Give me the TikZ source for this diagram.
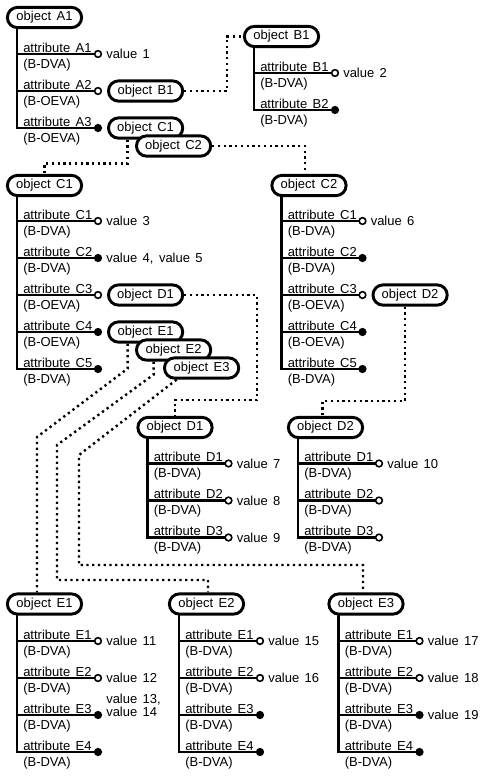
\documentclass[tikz,border=0pt]{standalone}
\usepackage{fontspec}
\setmainfont{Liberation Sans}[WordSpace=1.5]
\usetikzlibrary{calc}
\tikzset{
  obj/.style={draw, line width=2.2pt, fill=white, rounded corners=7.6pt,
    minimum width=55.7pt, minimum height=15.2pt, inner sep=0pt,
    font=\fontsize{9.75}{11.7}\selectfont},
  lbl/.style={inner sep=0pt, font=\fontsize{9.75}{11.7}\selectfont},
  val/.style={lbl, anchor=base west},
  attrline/.style={line width=1.7pt, line cap=rect},
  opendot/.style={circle, draw, fill=white, line width=1.2pt, minimum size=5pt, inner sep=0pt},
  fulldot/.style={circle, fill=black, minimum size=6.2pt, inner sep=0pt},
  dots/.style={line width=1.8pt, dash pattern=on 1.7pt off 2.6pt},
}
% #1 name, #2 vline x, #3 y, #4 attribute label, #5 type, #6 dot style
\newcommand\arow[6]{%
  \coordinate (#1s) at (#2,#3);
  \node[#6] (#1) at (#2+81,#3) {};
  \draw[attrline] (#1s) -- (#1);
  \node[lbl,anchor=base west] (#1n) at (#2+6,#3-2) {attribute #4};
  \node[lbl,anchor=base west] (#1t) at (#2+6,#3+14) {(#5)};
}
\begin{document}
\begin{tikzpicture}[x=0.75pt,y=-0.75pt]
\path[use as bounding box] (0,0) rectangle (500,776);

% ---------- block A1
\node[obj] (A1) at (44.5,17.5) {object A1};
\arow{A1a1}{17}{54}{A1}{B-DVA}{opendot}
\arow{A1a2}{17}{91}{A2}{B-OEVA}{opendot}
\arow{A1a3}{17}{128}{A3}{B-OEVA}{fulldot}
\draw[attrline] (A1a3s |- A1.south) -- (A1a3s);
\node[val] (v1) at ($(A1a1.center)+(8,4.6)$) {value 1};
\node[obj,anchor=west] (B1r) at ($(A1a2.center)+(9,0)$) {object B1};
\node[obj,anchor=west] (C1r) at ($(A1a3.center)+(9,0)$) {object C1};
\node[obj] (C2r) at ($(C1r.center)+(28,18)$) {object C2};

% ---------- block B1
\node[obj] (B1) at (281.5,36.5) {object B1};
\arow{B1a1}{254}{73}{B1}{B-DVA}{opendot}
\arow{B1a2}{254}{110}{B2}{B-DVA}{fulldot}
\draw[attrline] (B1a2s |- B1.south) -- (B1a2s);
\node[val] (v2) at ($(B1a1.center)+(8,4.6)$) {value 2};

% ---------- block C1
\node[obj] (C1) at (44.5,185.5) {object C1};
\arow{C1a1}{17}{221}{C1}{B-DVA}{opendot}
\arow{C1a2}{17}{258}{C2}{B-DVA}{fulldot}
\arow{C1a3}{17}{295}{C3}{B-OEVA}{opendot}
\arow{C1a4}{17}{332}{C4}{B-OEVA}{fulldot}
\arow{C1a5}{17}{369}{C5}{B-DVA}{fulldot}
\draw[attrline] (C1a5s |- C1.south) -- (C1a5s);
\node[val] (v3) at ($(C1a1.center)+(8,4.6)$) {value 3};
\node[val] (v45) at ($(C1a2.center)+(8,4.6)$) {value 4, value 5};
\node[obj,anchor=west] (D1r) at ($(C1a3.center)+(9,0)$) {object D1};
\node[obj,anchor=west] (E1r) at ($(C1a4.center)+(9,0)$) {object E1};
\node[obj] (E2r) at ($(E1r.center)+(28,18)$) {object E2};
\node[obj] (E3r) at ($(E2r.center)+(28,18)$) {object E3};

% ---------- block C2
\node[obj] (C2) at (309,185.5) {object C2};
\arow{C2a1}{281.5}{221}{C1}{B-DVA}{opendot}
\arow{C2a2}{281.5}{258}{C2}{B-DVA}{fulldot}
\arow{C2a3}{281.5}{295}{C3}{B-OEVA}{opendot}
\arow{C2a4}{281.5}{332}{C4}{B-OEVA}{fulldot}
\arow{C2a5}{281.5}{369}{C5}{B-DVA}{fulldot}
\draw[attrline] (C2a5s |- C2.south) -- (C2a5s);
\node[val] (v6) at ($(C2a1.center)+(8,4.6)$) {value 6};
\node[obj,anchor=west] (D2r) at ($(C2a3.center)+(9,0)$) {object D2};

% ---------- block D1
\node[obj] (D1) at (175,427.5) {object D1};
\arow{D1a1}{147.5}{463.5}{D1}{B-DVA}{opendot}
\arow{D1a2}{147.5}{500.5}{D2}{B-DVA}{opendot}
\arow{D1a3}{147.5}{537.5}{D3}{B-DVA}{opendot}
\draw[attrline] (D1a3s |- D1.south) -- (D1a3s);
\node[val] (v7) at ($(D1a1.center)+(8,4.6)$) {value 7};
\node[val] (v8) at ($(D1a2.center)+(8,4.6)$) {value 8};
\node[val] (v9) at ($(D1a3.center)+(8,4.6)$) {value 9};

% ---------- block D2
\node[obj] (D2) at (325.5,427.5) {object D2};
\arow{D2a1}{298}{463.5}{D1}{B-DVA}{opendot}
\arow{D2a2}{298}{500.5}{D2}{B-DVA}{opendot}
\arow{D2a3}{298}{537.5}{D3}{B-DVA}{opendot}
\draw[attrline] (D2a3s |- D2.south) -- (D2a3s);
\node[val] (v10) at ($(D2a1.center)+(8,4.6)$) {value 10};

% ---------- block E1
\node[obj] (E1) at (44.5,604) {object E1};
\arow{E1a1}{17}{641}{E1}{B-DVA}{opendot}
\arow{E1a2}{17}{678}{E2}{B-DVA}{opendot}
\arow{E1a3}{17}{715}{E3}{B-DVA}{fulldot}
\arow{E1a4}{17}{752}{E4}{B-DVA}{fulldot}
\draw[attrline] (E1a4s |- E1.south) -- (E1a4s);
\node[val] (v11) at ($(E1a1.center)+(8,4.6)$) {value 11};
\node[val] (v12) at ($(E1a2.center)+(8,4.6)$) {value 12};
\node[val,align=left,font=\fontsize{9.75}{9.2}\selectfont] (v1314) at ($(E1a3.center)+(8,1.2)$) {value 13,\\value 14};

% ---------- block E2
\node[obj] (E2) at (206.5,604) {object E2};
\arow{E2a1}{179}{641}{E1}{B-DVA}{opendot}
\arow{E2a2}{179}{678}{E2}{B-DVA}{opendot}
\arow{E2a3}{179}{715}{E3}{B-DVA}{fulldot}
\arow{E2a4}{179}{752}{E4}{B-DVA}{fulldot}
\draw[attrline] (E2a4s |- E2.south) -- (E2a4s);
\node[val] (v15) at ($(E2a1.center)+(8,4.6)$) {value 15};
\node[val] (v16) at ($(E2a2.center)+(8,4.6)$) {value 16};

% ---------- block E3
\node[obj] (E3) at (366,604) {object E3};
\arow{E3a1}{338.5}{641}{E1}{B-DVA}{opendot}
\arow{E3a2}{338.5}{678}{E2}{B-DVA}{opendot}
\arow{E3a3}{338.5}{715}{E3}{B-DVA}{fulldot}
\arow{E3a4}{338.5}{752}{E4}{B-DVA}{fulldot}
\draw[attrline] (E3a4s |- E3.south) -- (E3a4s);
\node[val] (v17) at ($(E3a1.center)+(8,4.6)$) {value 17};
\node[val] (v18) at ($(E3a2.center)+(8,4.6)$) {value 18};
\node[val] (v19) at ($(E3a3.center)+(8,4.6)$) {value 19};

% ---------- dotted reference connectors
\draw[dots] (B1r.east) -- ++(43,0) |- (B1.west);
\draw[dots] ($(C1r.south)+(-18,0)$) -- ++(0,24) -| (C1.north);
\draw[dots] (C2r.east) -| ($(C2.north)+(-4,0)$);
\draw[dots] (D1r.east) -- ++(73,0) |- ($(D1.north)+(0,-16)$) -- (D1.north);
\draw[dots] ($(D2r.south)+(-5,0)$) |- ($(D2.north)+(-3,-15)$) -- ($(D2.north)+(-3,0)$);
\draw[dots] ($(E1r.south)+(-18,0)$) -- ++(0,25) -- (37,437) -- ($(E1.north)+(-7.5,0)$);
\draw[dots] ($(E2r.south)+(-20,0)$) -- ++(0,13) -- (57,445) -- (57,580) -| ($(E2.north)+(1.5,0)$);
\draw[dots] ($(E3r.south)+(-25,0)$) -- (79,455) -- (79,565) -| ($(E3.north)+(-3,0)$);
\end{tikzpicture}
\end{document}
